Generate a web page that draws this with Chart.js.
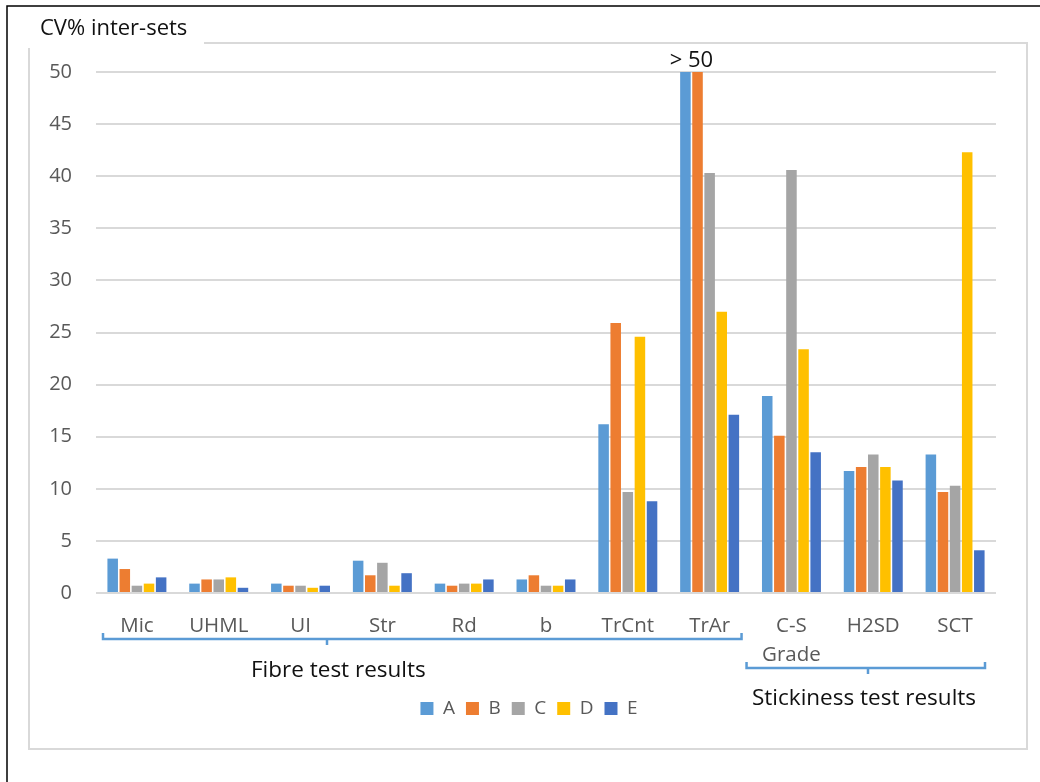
<!DOCTYPE html>
<html>
<head>
<meta charset="utf-8">
<script src="https://cdn.jsdelivr.net/npm/chart.js@4"></script>
<style>
  html, body { margin: 0; padding: 0; background: #fff; }
  #wrap { position: relative; width: 1040px; height: 782px; }
</style>
</head>
<body>
<div id="wrap"><canvas id="myChart" width="1040" height="782"></canvas></div>
<script>
// categories and series (CV% inter-sets)
const categories = ["Mic", "UHML", "UI", "Str", "Rd", "b", "TrCnt", "TrAr", ["C-S", "Grade"], "H2SD", "SCT"];
const seriesA = [3.3, 0.9, 0.9, 3.1, 0.9, 1.3, 16.2, 50, 18.9, 11.7, 13.3];
const seriesB = [2.3, 1.3, 0.7, 1.7, 0.7, 1.7, 25.9, 50, 15.1, 12.1, 9.7];
const seriesC = [0.7, 1.3, 0.7, 2.9, 0.9, 0.7, 9.7, 40.3, 40.6, 13.3, 10.3];
const seriesD = [0.9, 1.5, 0.5, 0.7, 0.9, 0.7, 24.6, 27.0, 23.4, 12.1, 42.3];
const seriesE = [1.5, 0.5, 0.7, 1.9, 1.3, 1.3, 8.8, 17.1, 13.5, 10.8, 4.1];
const yTicks = [0, 5, 10, 15, 20, 25, 30, 35, 40, 45, 50];

const FONT = "'Open Sans', 'Noto Sans', sans-serif";

// frames, brackets and extra text
const extras = {
  id: "extras",
  afterLayout(chart) {
    // legend sits a little right of centre in the original
    chart.legend.left += 16;
    chart.legend.right += 16;
  },
  afterDraw(chart) {
    const c = chart.ctx;
    const x = chart.scales.x;
    c.save();

    // outer frame (top + left)
    c.strokeStyle = "#000";
    c.lineWidth = 1.5;
    c.beginPath();
    c.moveTo(7, 782); c.lineTo(7, 6); c.lineTo(1040, 6);
    c.stroke();

    // inner box
    c.strokeStyle = "#d9d9d9";
    c.lineWidth = 2;
    c.beginPath();
    c.moveTo(29, 48); c.lineTo(29, 749); c.lineTo(1027, 749); c.lineTo(1027, 43); c.lineTo(204, 43);
    c.stroke();

    // title
    c.fillStyle = "#111";
    c.font = "22px " + FONT;
    c.textAlign = "left";
    c.textBaseline = "alphabetic";
    c.fillText("CV% inter-sets", 40, 35);

    // "> 50" above the clipped TrAr bars
    const a7 = chart.getDatasetMeta(0).data[7];
    const b7 = chart.getDatasetMeta(1).data[7];
    c.textAlign = "center";
    c.fillText("> 50", (a7.x + b7.x) / 2, 67);

    // brackets
    const half = (x.getPixelForValue(1) - x.getPixelForValue(0)) / 2;
    const edgeL = (i) => x.getPixelForValue(i) - half;
    const edgeR = (i) => x.getPixelForValue(i) + half;
    c.strokeStyle = "#5b9bd5";
    c.lineWidth = 2.5;
    function bracket(x1, x2, y, xt) {
      c.beginPath();
      c.moveTo(x1, y - 6); c.lineTo(x1, y); c.lineTo(x2, y); c.lineTo(x2, y - 6);
      c.moveTo(xt, y); c.lineTo(xt, y + 6);
      c.stroke();
    }
    bracket(edgeL(0) + 7, edgeR(7) - 9, 639, 327);
    bracket(edgeL(8) - 4, edgeR(10) - 11, 668, 868);

    c.fillStyle = "#111";
    c.font = "22.5px " + FONT;
    c.textAlign = "left";
    c.fillText("Fibre test results", 251, 677);
    c.fillText("Stickiness test results", 752, 705);
    c.restore();
  }
};

const ctx = document.getElementById("myChart").getContext("2d");
const mk = (label, data, color) => ({
  label: label,
  data: data,
  backgroundColor: color,
  borderWidth: 0,
  categoryPercentage: 0.74,
  barPercentage: 0.87,
});

const myChart = new Chart(ctx, {
  type: "bar",
  data: {
    labels: categories,
    datasets: [
      mk("A", seriesA, "#5b9bd5"),
      mk("B", seriesB, "#ed7d31"),
      mk("C", seriesC, "#a5a5a5"),
      mk("D", seriesD, "#ffc000"),
      mk("E", seriesE, "#4472c4"),
    ],
  },
  options: {
    responsive: false,
    animation: false,
    layout: { padding: { left: 30, top: 72, right: 44, bottom: 54 } },
    plugins: {
      tooltip: { enabled: false },
      legend: {
        position: "bottom",
        labels: {
          boxWidth: 13,
          boxHeight: 13,
          padding: 11,
          color: "#595959",
          font: { family: FONT, size: 19 },
        },
      },
    },
    scales: {
      x: {
        grid: { display: false },
        border: { display: false },
        ticks: {
          color: "#595959",
          font: { family: FONT, size: 20.5, lineHeight: 1.45 },
          padding: 10,
          maxRotation: 0,
          autoSkip: false,
        },
        afterFit: (s) => { s.height = 95; },
      },
      y: {
        min: 0,
        max: 50,
        afterBuildTicks: (s) => { s.ticks = yTicks.map((v) => ({ value: v })); },
        grid: { color: "#d9d9d9", lineWidth: 2, drawTicks: false },
        border: { display: false },
        ticks: {
          color: "#595959",
          font: { family: FONT, size: 20 },
          padding: 24,
        },
        afterFit: (s) => { s.width = 66; },
      },
    },
  },
  plugins: [extras],
});
</script>
</body>
</html>
